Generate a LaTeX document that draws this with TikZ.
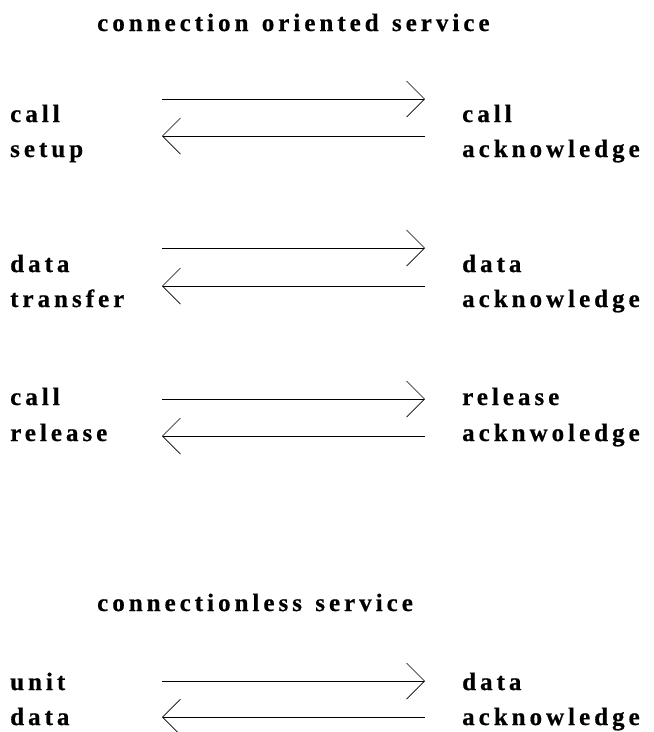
\documentclass[tikz,border=0pt]{standalone}
\usepackage{fontspec}
\newfontfamily\lblfont[LetterSpace=16,FakeBold=0.6,WordSpace=1.3]{Liberation Serif}
\usetikzlibrary{arrows.meta}
\tikzset{
  lbl/.style={anchor=base west, inner sep=0pt,
    font={\lblfont\bfseries\fontsize{25}{29}\selectfont}},
  msg/.style={line width=0.9pt, -{Straight Barb[length=18pt,width=36pt,line width=0.7pt]}},
}
\begin{document}
\begin{tikzpicture}[x=1pt,y=-1pt]
\useasboundingbox (0,0) rectangle (654,732);

% connection oriented service
\node[lbl] (t1) at (97,31) {connection oriented service};

% call setup
\node[lbl] (l1a) at (10,122) {call};
\node[lbl] (l1b) at (10,157) {setup};
\node[lbl] (r1a) at (462,122) {call};
\node[lbl] (r1b) at (462,157) {acknowledge};
\coordinate (a1l) at (162,99);  \coordinate (a1r) at (425,99);
\coordinate (b1l) at (162,136); \coordinate (b1r) at (425,136);
\draw[msg] (a1l) -- (a1r);
\draw[msg] (b1r) -- (b1l);

% data transfer
\node[lbl] (l2a) at (10,272) {data};
\node[lbl] (l2b) at (10,307) {transfer};
\node[lbl] (r2a) at (462,272) {data};
\node[lbl] (r2b) at (462,307) {acknowledge};
\coordinate (a2l) at (162,248); \coordinate (a2r) at (425,248);
\coordinate (b2l) at (162,286); \coordinate (b2r) at (425,286);
\draw[msg] (a2l) -- (a2r);
\draw[msg] (b2r) -- (b2l);

% call release
\node[lbl] (l3a) at (10,405) {call};
\node[lbl] (l3b) at (10,441) {release};
\node[lbl] (r3a) at (462,405) {release};
\node[lbl] (r3b) at (462,441) {acknwoledge};
\coordinate (a3l) at (162,399); \coordinate (a3r) at (425,399);
\coordinate (b3l) at (162,436); \coordinate (b3r) at (425,436);
\draw[msg] (a3l) -- (a3r);
\draw[msg] (b3r) -- (b3l);

% connectionless service
\node[lbl] (t2) at (97,611) {connectionless service};

\node[lbl] (l4a) at (10,690) {unit};
\node[lbl] (l4b) at (10,725) {data};
\node[lbl] (r4a) at (462,690) {data};
\node[lbl] (r4b) at (462,725) {acknowledge};
\coordinate (a4l) at (162,681); \coordinate (a4r) at (425,681);
\coordinate (b4l) at (162,717); \coordinate (b4r) at (425,717);
\draw[msg] (a4l) -- (a4r);
\draw[msg] (b4r) -- (b4l);
\end{tikzpicture}
\end{document}
